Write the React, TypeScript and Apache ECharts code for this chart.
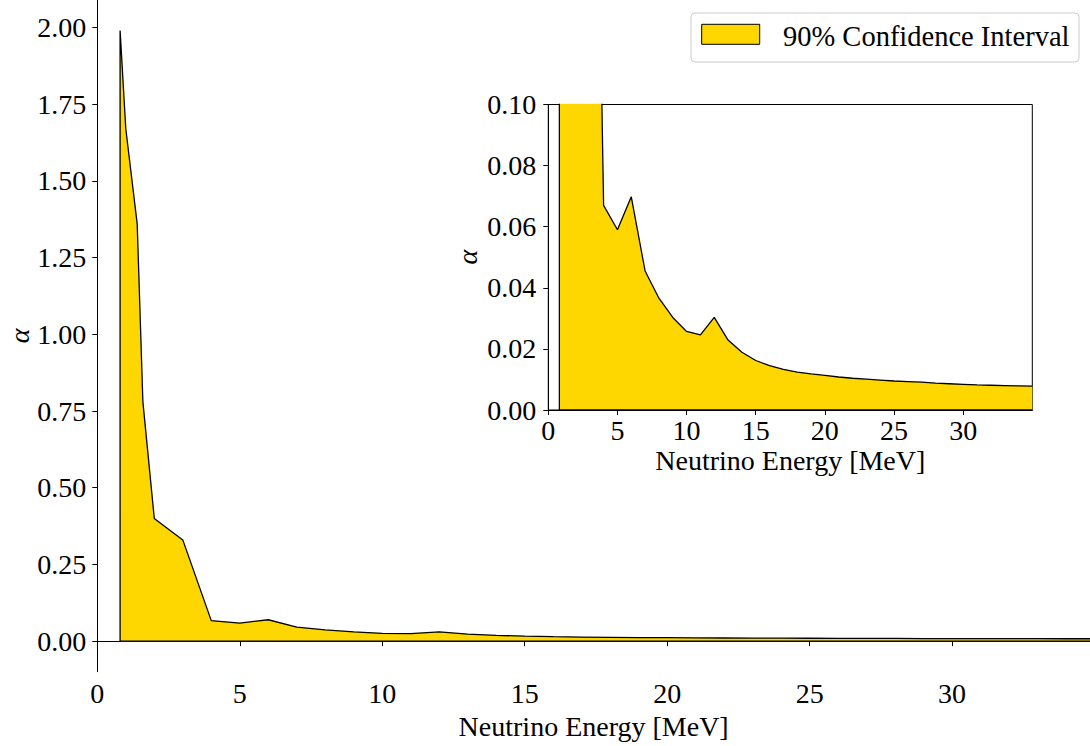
import React, { useEffect, useRef } from "react";
import * as echarts from "echarts";

// Neutrino energy [MeV] and upper edge of the 90% confidence band (alpha)
const energies = [
  0.8, 1.0, 1.4, 1.6, 2, 3, 4, 5, 6, 7, 8, 9, 10, 11, 12, 13, 14, 15, 16, 17, 18,
  19, 20, 21, 22, 23, 24, 25, 26, 27, 28, 29, 30, 31, 32, 33, 34, 35,
];
const alphaUpper = [
  1.99, 1.67, 1.36, 0.78, 0.40, 0.33, 0.067, 0.059, 0.0698, 0.0455, 0.0366, 0.0303,
  0.0257, 0.0246, 0.0303, 0.0229, 0.0189, 0.0162, 0.0145, 0.0133, 0.0124, 0.0118,
  0.0113, 0.0108, 0.0104, 0.0101, 0.0098, 0.0095, 0.0093, 0.0091, 0.0088, 0.0086,
  0.0084, 0.0082, 0.0081, 0.0080, 0.0079, 0.0078,
];
const xTicks = [0, 5, 10, 15, 20, 25, 30];
const mainYTicks = [0, 0.25, 0.5, 0.75, 1.0, 1.25, 1.5, 1.75, 2.0];
const legendLabel = "90% Confidence Interval";
const xName = "Neutrino Energy [MeV]";
const yName = "α";

const FONT = "Liberation Serif";
const GOLD = "#FFD700";

export default function App() {
  const ref = useRef<HTMLDivElement>(null);
  useEffect(() => {
    if (!ref.current) return;
    const chart = echarts.init(ref.current, null, { renderer: "svg" });
    const band = [[energies[0], 0], ...energies.map((e, i) => [e, alphaUpper[i]])];
    const base = [
      [energies[0], 0],
      [energies[energies.length - 1], 0],
    ];
    const label = { fontFamily: FONT, fontSize: 28, color: "#000" };
    const alphaStyle = {
      ...label,
      fontStyle: "italic",
      verticalAlign: "middle",
      lineHeight: 20,
    };
    const axisLine = { show: true, lineStyle: { color: "#000", width: 1 } };
    const axisTick = { show: true, inside: false, length: 5, lineStyle: { color: "#000", width: 1 } };
    const mkSeries = (idx: number) => [
      {
        type: "line",
        xAxisIndex: idx,
        yAxisIndex: idx,
        data: band,
        showSymbol: false,
        symbol: "none",
        clip: true,
        lineStyle: { color: "#000", width: 1.3 },
        areaStyle: { color: GOLD, opacity: 1, origin: 0 },
        z: 2,
      },
      {
        type: "line",
        xAxisIndex: idx,
        yAxisIndex: idx,
        data: base,
        showSymbol: false,
        symbol: "none",
        clip: true,
        lineStyle: { color: "#000", width: 1.3 },
        z: 3,
      },
    ];
    chart.setOption({
      animation: false,
      backgroundColor: "#fff",
      grid: [
        {
          left: 97.3,
          top: 0,
          width: 992.7,
          height: 671.7,
          containLabel: false,
          outerBoundsMode: "none",
        },
        {
          left: 548.3,
          top: 104.5,
          width: 484,
          height: 305.5,
          show: true,
          borderColor: "#000",
          borderWidth: 1,
          backgroundColor: "#fff",
          containLabel: false,
          outerBoundsMode: "none",
          z: 5,
        },
      ],
      xAxis: [
        {
          type: "value",
          gridIndex: 0,
          min: 0,
          max: 34.84,
          splitLine: { show: false },
          axisLine,
          axisTick: { ...axisTick, customValues: xTicks },
          axisLabel: { ...label, margin: 8, customValues: xTicks },
          name: xName,
          nameLocation: "middle",
          nameGap: 40,
          nameTextStyle: label,
        },
        {
          type: "value",
          gridIndex: 1,
          min: 0,
          max: 35,
          splitLine: { show: false },
          axisLine,
          axisTick: { ...axisTick, customValues: xTicks },
          axisLabel: { ...label, margin: 6, customValues: xTicks },
          name: xName,
          nameLocation: "middle",
          nameGap: 36,
          nameTextStyle: label,
          z: 6,
        },
      ],
      yAxis: [
        {
          type: "value",
          gridIndex: 0,
          min: -0.0995,
          max: 2.0895,
          splitLine: { show: false },
          axisLine,
          axisTick: { ...axisTick, customValues: mainYTicks },
          axisLabel: {
            ...label,
            margin: 11,
            customValues: mainYTicks,
            formatter: (v: number) => v.toFixed(2),
          },
        },
        {
          type: "value",
          gridIndex: 1,
          min: 0,
          max: 0.1,
          interval: 0.02,
          splitLine: { show: false },
          axisLine,
          axisTick,
          axisLabel: { ...label, margin: 12, formatter: (v: number) => v.toFixed(2) },
          name: yName,
          nameLocation: "middle",
          nameGap: 81,
          nameTextStyle: alphaStyle,
          z: 6,
        },
      ],
      series: [...mkSeries(0), ...mkSeries(1).map((s) => ({ ...s, z: s.z + 5 }))],
      graphic: [
        {
          type: "text",
          x: 19,
          y: 336,
          rotation: Math.PI / 2,
          style: {
            text: yName,
            fontFamily: FONT,
            fontSize: 28,
            fontStyle: "italic",
            fill: "#000",
            align: "center",
            verticalAlign: "middle",
          },
          z: 21,
        },
        {
          type: "rect",
          shape: { x: 691, y: 13, width: 388, height: 49, r: 4 },
          style: { fill: "rgba(255,255,255,0.8)", stroke: "#cccccc", lineWidth: 1 },
          z: 20,
        },
        {
          type: "rect",
          shape: { x: 701.7, y: 24.3, width: 58, height: 20 },
          style: { fill: GOLD, stroke: "#000", lineWidth: 1 },
          z: 21,
        },
        {
          type: "text",
          x: 783,
          y: 36,
          style: {
            text: legendLabel,
            fontFamily: FONT,
            fontSize: 28.5,
            fill: "#000",
            verticalAlign: "middle",
            align: "left",
          },
          z: 21,
        },
      ],
    });
    return () => chart.dispose();
  }, []);
  return (
    <div
      ref={ref}
      style={{ position: "absolute", left: 0, top: 0, width: 1090, height: 746 }}
    />
  );
}
